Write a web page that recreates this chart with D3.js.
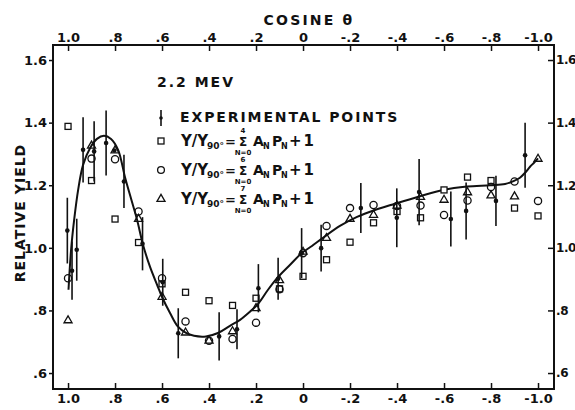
<!DOCTYPE html>
<html>
<head>
<meta charset="utf-8">
<script src="https://cdn.jsdelivr.net/npm/d3@7"></script>
<style>
  body { margin: 0; background: #fff; }
  svg text { font-family: "DejaVu Sans", sans-serif; font-weight: bold; fill: #111; }
</style>
</head>
<body>
<div id="container"></div>
<script>
/* CONSTANTS AND GLOBALS */
const width = 575,
  height = 410,
  margin = {top: 45, bottom: 21, left: 53, right: 21};

/* DATA (cos theta, relative yield) */
const cosSteps = [1.0, 0.9, 0.8, 0.7, 0.6, 0.5, 0.4, 0.3, 0.2, 0.1, 0.0,
  -0.1, -0.2, -0.3, -0.4, -0.5, -0.6, -0.7, -0.8, -0.9, -1.0];

// fit up to N=4 (squares)
const fit4 = [1.388, 1.215, 1.092, 1.017, 0.885, 0.858, 0.831, 0.816, 0.839, 0.869, 0.909,
  0.962, 1.018, 1.080, 1.116, 1.096, 1.185, 1.226, 1.215, 1.127, 1.102];
// fit up to N=6 (circles)
const fit6 = [0.903, 1.285, 1.283, 1.116, 0.903, 0.765, 0.703, 0.709, 0.761, 0.868, 0.983,
  1.070, 1.127, 1.137, 1.134, 1.135, 1.105, 1.151, 1.194, 1.212, 1.150];
// fit up to N=7 (triangles)
const fit7 = [0.768, 1.326, 1.311, 1.092, 0.843, 0.729, 0.703, 0.733, 0.807, 0.896, 0.987,
  1.031, 1.092, 1.105, 1.134, 1.162, 1.153, 1.177, 1.167, 1.164, 1.284];

// experimental points
const expCos = [1.003, 0.983, 0.963, 0.936, 0.889, 0.838, 0.803, 0.762, 0.683, 0.597, 0.531,
  0.357, 0.281, 0.190, 0.106, 0.006, -0.077, -0.246, -0.399, -0.494, -0.629, -0.694, -0.821, -0.945];
const expYield = [1.055, 0.927, 0.994, 1.313, 1.308, 1.335, 1.311, 1.212, 1.013, 0.890, 0.727,
  0.717, 0.740, 0.871, 0.901, 0.983, 0.999, 1.127, 1.096, 1.178, 1.092, 1.118, 1.150, 1.296];
const expErr = [0.105, 0.093, 0.099, 0.104, 0.096, 0.104, 0, 0.085, 0.085, 0.075, 0.080,
  0.077, 0.064, 0.077, 0.067, 0.080, 0.075, 0.080, 0.094, 0.106, 0.088, 0.091, 0.080, 0.104];

// smooth curve through the data
const curveCos = [0.998, 0.987, 0.974, 0.957, 0.936, 0.906, 0.877, 0.847, 0.817, 0.787, 0.757,
  0.728, 0.706, 0.681, 0.651, 0.621, 0.600, 0.566, 0.532, 0.498, 0.464, 0.413, 0.362, 0.311,
  0.268, 0.226, 0.191, 0.149, 0.106, 0.055, 0.004, -0.038, -0.085, -0.157, -0.230, -0.306,
  -0.391, -0.498, -0.596, -0.698, -0.796, -0.860, -0.898, -0.923, -0.945, -0.966, -0.983, -1.0];
const curveYield = [0.866, 0.994, 1.089, 1.185, 1.265, 1.319, 1.348, 1.358, 1.348, 1.313, 1.224,
  1.147, 1.089, 1.010, 0.939, 0.882, 0.843, 0.792, 0.748, 0.728, 0.719, 0.717, 0.728, 0.751,
  0.770, 0.796, 0.821, 0.866, 0.907, 0.946, 0.984, 1.006, 1.032, 1.070, 1.099, 1.121,
  1.141, 1.165, 1.185, 1.196, 1.200, 1.204, 1.214, 1.224, 1.240, 1.259, 1.272, 1.286];

// ticks
const xTicks = [1.0, 0.8, 0.6, 0.4, 0.2, 0, -0.2, -0.4, -0.6, -0.8, -1.0];
const xTickLabels = ["1.0", ".8", ".6", ".4", ".2", "0", "-.2", "-.4", "-.6", "-.8", "-1.0"];
const yTicks = [1.6, 1.4, 1.2, 1.0, 0.8, 0.6];
const yTickLabels = ["1.6", "1.4", "1.2", "1.0", ".8", ".6"];

/* SCALES */
const xScale = d3.scaleLinear()
  .domain([1.064, -1.068])
  .range([margin.left, width - margin.right]);

const yScale = d3.scaleLinear()
  .domain([0.549, 1.648])
  .range([height - margin.bottom, margin.top]);

/* HTML ELEMENTS */
const svg = d3.select("#container")
  .append("svg")
  .attr("width", width)
  .attr("height", height);

// axes
const xFmt = (d, i) => xTickLabels[i];
const yFmt = (d, i) => yTickLabels[i];

svg.append("g")
  .attr("transform", `translate(0,${margin.top})`)
  .call(d3.axisTop(xScale).tickValues(xTicks).tickFormat(xFmt).tickSizeInner(-6).tickSizeOuter(0).tickPadding(3));

svg.append("g")
  .attr("transform", `translate(0,${height - margin.bottom})`)
  .call(d3.axisBottom(xScale).tickValues(xTicks).tickFormat(xFmt).tickSizeInner(-6).tickSizeOuter(0).tickPadding(5));

svg.append("g")
  .attr("transform", `translate(${margin.left},0)`)
  .call(d3.axisLeft(yScale).tickValues(yTicks).tickFormat(yFmt).tickSizeInner(4).tickSizeOuter(0).tickPadding(2));

const rightAxis = svg.append("g")
  .attr("transform", `translate(${width - margin.right},0)`)
  .call(d3.axisRight(yScale).tickValues(yTicks).tickFormat(yFmt).tickSizeInner(-6).tickSizeOuter(0).tickPadding(2));

svg.selectAll(".domain").remove();
svg.selectAll(".tick line").attr("stroke", "#111").attr("stroke-width", 1.5);
svg.selectAll(".tick text")
  .style("font-size", "13px")
  .style("font-family", '"DejaVu Sans", sans-serif')
  .style("font-weight", "bold")
  .attr("fill", "#111");
rightAxis.selectAll(".tick text")
  .style("font-size", "12px")
  .style("letter-spacing", "-0.4px");

// frame
svg.append("rect")
  .attr("x", margin.left)
  .attr("y", margin.top)
  .attr("width", width - margin.left - margin.right)
  .attr("height", height - margin.top - margin.bottom)
  .attr("fill", "none")
  .attr("stroke", "#111")
  .attr("stroke-width", 2);

// axis titles
svg.append("text")
  .attr("x", 309)
  .attr("y", 25)
  .attr("text-anchor", "middle")
  .style("font-size", "14px")
  .style("letter-spacing", "2.2px")
  .text("COSINE θ");

svg.append("text")
  .attr("transform", "translate(25,213) rotate(-90)")
  .attr("text-anchor", "middle")
  .style("font-size", "14px")
  .style("letter-spacing", "1px")
  .text("RELATIVE YIELD");

// curve
const line = d3.line()
  .x(d => xScale(d[0]))
  .y(d => yScale(d[1]))
  .curve(d3.curveCatmullRom.alpha(0.5));

svg.append("path")
  .datum(curveCos.map((c, i) => [c, curveYield[i]]))
  .attr("d", line)
  .attr("fill", "none")
  .attr("stroke", "#111")
  .attr("stroke-width", 2);

// fit markers
const pts = vals => cosSteps.map((c, i) => ({c: c, v: vals[i]}));

svg.selectAll(".sq")
  .data(pts(fit4))
  .join("rect")
  .attr("class", "sq")
  .attr("x", d => xScale(d.c) - 3)
  .attr("y", d => yScale(d.v) - 3)
  .attr("width", 6)
  .attr("height", 6)
  .attr("fill", "#fff")
  .attr("stroke", "#111")
  .attr("stroke-width", 1.3);

svg.selectAll(".ci")
  .data(pts(fit6))
  .join("circle")
  .attr("class", "ci")
  .attr("cx", d => xScale(d.c))
  .attr("cy", d => yScale(d.v))
  .attr("r", 3.6)
  .attr("fill", "none")
  .attr("stroke", "#111")
  .attr("stroke-width", 1.3);

const tri = d3.symbol().type(d3.symbolTriangle).size(28);
svg.selectAll(".tr")
  .data(pts(fit7))
  .join("path")
  .attr("class", "tr")
  .attr("d", tri)
  .attr("transform", d => `translate(${xScale(d.c)},${yScale(d.v)})`)
  .attr("fill", "none")
  .attr("stroke", "#111")
  .attr("stroke-width", 1.3);

// experimental points with error bars
const expData = expCos.map((c, i) => ({c: c, v: expYield[i], e: expErr[i]}));

svg.selectAll(".err")
  .data(expData.filter(d => d.e > 0))
  .join("line")
  .attr("class", "err")
  .attr("x1", d => xScale(d.c))
  .attr("x2", d => xScale(d.c))
  .attr("y1", d => yScale(d.v - d.e))
  .attr("y2", d => yScale(d.v + d.e))
  .attr("stroke", "#111")
  .attr("stroke-width", 1.6);

svg.selectAll(".dot")
  .data(expData)
  .join("circle")
  .attr("class", "dot")
  .attr("cx", d => xScale(d.c))
  .attr("cy", d => yScale(d.v))
  .attr("r", 2.3)
  .attr("fill", "#111");

// legend
svg.append("text")
  .attr("x", 157).attr("y", 87)
  .style("font-size", "14px")
  .style("letter-spacing", "2px")
  .text("2.2 MEV");

svg.append("line")
  .attr("x1", 161).attr("x2", 161)
  .attr("y1", 110).attr("y2", 126)
  .attr("stroke", "#111").attr("stroke-width", 1.6);
svg.append("circle")
  .attr("cx", 161).attr("cy", 118).attr("r", 1.8).attr("fill", "#111");

svg.append("text")
  .attr("x", 180).attr("y", 122)
  .style("font-size", "14px")
  .style("letter-spacing", "1.9px")
  .text("EXPERIMENTAL POINTS");

const legendRows = [
  {sym: "sq", top: "4", y: 146},
  {sym: "ci", top: "6", y: 175},
  {sym: "tr", top: "7", y: 204}
];

legendRows.forEach(r => {
  const cy = r.y - 5;
  if (r.sym === "sq") {
    svg.append("rect").attr("x", 158).attr("y", cy - 3).attr("width", 6).attr("height", 6)
      .attr("fill", "none").attr("stroke", "#111").attr("stroke-width", 1.3);
  } else if (r.sym === "ci") {
    svg.append("circle").attr("cx", 161).attr("cy", cy).attr("r", 3.4)
      .attr("fill", "none").attr("stroke", "#111").attr("stroke-width", 1.3);
  } else {
    svg.append("path").attr("d", tri).attr("transform", `translate(161,${cy})`)
      .attr("fill", "none").attr("stroke", "#111").attr("stroke-width", 1.3);
  }
  const g = svg.append("g").attr("transform", `translate(0,${r.y})`);
  g.append("text").attr("x", 181).attr("y", 0).style("font-size", "15px").text("Y/Y");
  g.append("text").attr("x", 207).attr("y", 3).style("font-size", "9px").text("90°");
  g.append("text").attr("x", 225).attr("y", 0).style("font-size", "13px").text("=");
  g.append("text").attr("x", 243).attr("y", 0).attr("text-anchor", "middle").style("font-size", "12px").text("Σ");
  g.append("text").attr("x", 243).attr("y", -13.5).attr("text-anchor", "middle").style("font-size", "7px").text(r.top);
  g.append("text").attr("x", 243).attr("y", 9).attr("text-anchor", "middle").style("font-size", "7px").text("N=0");
  g.append("text").attr("x", 253).attr("y", 0).style("font-size", "14px").text("A");
  g.append("text").attr("x", 263).attr("y", 3).style("font-size", "8px").text("N");
  g.append("text").attr("x", 272).attr("y", 0).style("font-size", "14px").text("P");
  g.append("text").attr("x", 281).attr("y", 3).style("font-size", "8px").text("N");
  g.append("text").attr("x", 289).attr("y", 0).style("font-size", "15px").style("letter-spacing", "2px").text("+1");
});
</script>
</body>
</html>
